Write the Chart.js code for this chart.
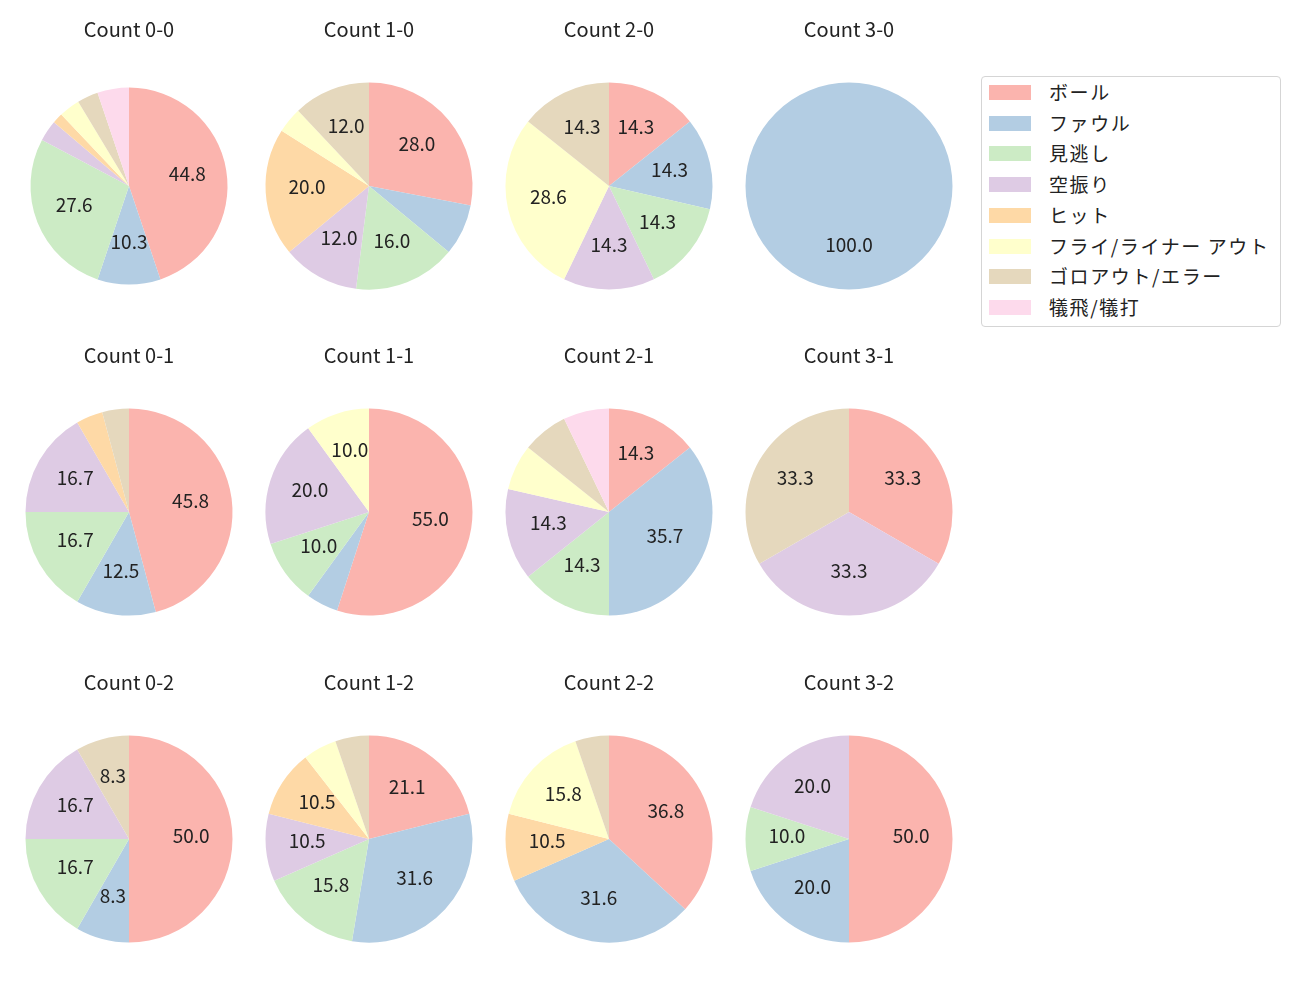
<!DOCTYPE html>
<html>
<head>
<meta charset="utf-8">
<script src="https://cdn.jsdelivr.net/npm/chart.js@4.4.1/dist/chart.umd.min.js"></script>
<style>
  body { margin: 0; background: #fff; }
  #wrap { position: relative; width: 1300px; height: 1000px; overflow: hidden; }
  .cell { position: absolute; width: 240px; height: 300px; }
  #legend {
    position: absolute; left: 981px; top: 76px; width: 298px; height: 249px;
    border: 1px solid #d5d5d5; border-radius: 4px; background: #fff;
    font-family: "Noto Sans CJK JP", sans-serif; font-size: 19px; color: #222;
    letter-spacing: 1.6px;
  }
  .item { position: absolute; left: 7px; height: 20px; }
  .swatch { position: absolute; left: 0; top: 0; width: 42px; height: 15px; }
  .lbl { position: absolute; left: 60px; top: -6px; white-space: nowrap; line-height: 26px; }
</style>
</head>
<body>
<div id="wrap"><div id="legend"></div></div>
<script>
const categories = ['ボール', 'ファウル', '見逃し', '空振り', 'ヒット', 'フライ/ライナー アウト', 'ゴロアウト/エラー', '犠飛/犠打'];
const colors = ['#fbb4ae', '#b3cde3', '#ccebc5', '#decbe4', '#fed9a6', '#ffffcc', '#e5d8bd', '#fddaec'];

const titles = ['Count 0-0', 'Count 1-0', 'Count 2-0', 'Count 3-0',
                'Count 0-1', 'Count 1-1', 'Count 2-1', 'Count 3-1',
                'Count 0-2', 'Count 1-2', 'Count 2-2', 'Count 3-2'];

// pitch result counts, same order as categories
const count00 = [26, 6, 16, 2, 1, 2, 2, 3];
const count10 = [7, 2, 4, 3, 5, 1, 3, 0];
const count20 = [1, 1, 1, 1, 0, 2, 1, 0];
const count30 = [0, 1, 0, 0, 0, 0, 0, 0];
const count01 = [11, 3, 4, 4, 1, 0, 1, 0];
const count11 = [11, 1, 2, 4, 0, 2, 0, 0];
const count21 = [2, 5, 2, 2, 0, 1, 1, 1];
const count31 = [1, 0, 0, 1, 0, 0, 1, 0];
const count02 = [6, 1, 2, 2, 0, 0, 1, 0];
const count12 = [4, 6, 3, 2, 2, 1, 1, 0];
const count22 = [7, 6, 0, 0, 2, 3, 1, 0];
const count32 = [5, 2, 1, 2, 0, 0, 0, 0];

const allCounts = [count00, count10, count20, count30,
                   count01, count11, count21, count31,
                   count02, count12, count22, count32];

const FONT = '"Noto Sans CJK JP", "Noto Sans", sans-serif';
const colX = [129, 369, 609, 849];
const rowY = [186, 512, 839];

// percentage text inside each wedge, like autopct
const pctLabels = {
  id: 'pctLabels',
  afterDatasetsDraw(chart) {
    const ctx = chart.ctx;
    const data = chart.data.datasets[0].data;
    const total = data.reduce((a, b) => a + b, 0);
    ctx.save();
    ctx.font = '19px ' + FONT;
    ctx.fillStyle = '#222';
    ctx.textAlign = 'center';
    ctx.textBaseline = 'middle';
    chart.getDatasetMeta(0).data.forEach((arc, i) => {
      const pct = data[i] / total * 100;
      if (pct <= 8) return;
      const p = arc.getProps(['x', 'y', 'startAngle', 'endAngle', 'outerRadius'], true);
      const mid = (p.startAngle + p.endAngle) / 2;
      const r = p.outerRadius * 0.6;
      ctx.fillText(pct.toFixed(1), p.x + Math.cos(mid) * r, p.y + Math.sin(mid) * r - 3);
    });
    ctx.restore();
  }
};

const wrap = document.getElementById('wrap');
allCounts.forEach((counts, k) => {
  const col = k % 4, row = Math.floor(k / 4);
  const cv = document.createElement('canvas');
  cv.className = 'cell';
  cv.width = 240; cv.height = 300;
  cv.style.left = (colX[col] - 120) + 'px';
  cv.style.top = (rowY[row] - 185) + 'px';
  wrap.appendChild(cv);
  new Chart(cv, {
    type: 'pie',
    data: {
      labels: categories,
      datasets: [{
        data: counts,
        backgroundColor: colors,
        borderWidth: 0,
        hoverOffset: 0
      }]
    },
    options: {
      responsive: false,
      animation: false,
      radius: k === 0 ? 98.5 : 103.5,
      layout: { padding: { top: 0, bottom: 9.8, left: 10, right: 10 } },
      plugins: {
        legend: { display: false },
        tooltip: { enabled: false },
        title: {
          display: true,
          text: titles[k],
          color: '#222',
          font: { family: FONT, size: 20, weight: 'normal' },
          padding: { top: 16, bottom: 40 }
        }
      }
    },
    plugins: [pctLabels]
  });
});

const legend = document.getElementById('legend');
categories.forEach((name, i) => {
  const it = document.createElement('div');
  it.className = 'item';
  it.style.top = (8 + i * 30.7) + 'px';
  it.innerHTML = '<div class="swatch" style="background:' + colors[i] + '"></div><div class="lbl">' + name + '</div>';
  legend.appendChild(it);
});
</script>
</body>
</html>
